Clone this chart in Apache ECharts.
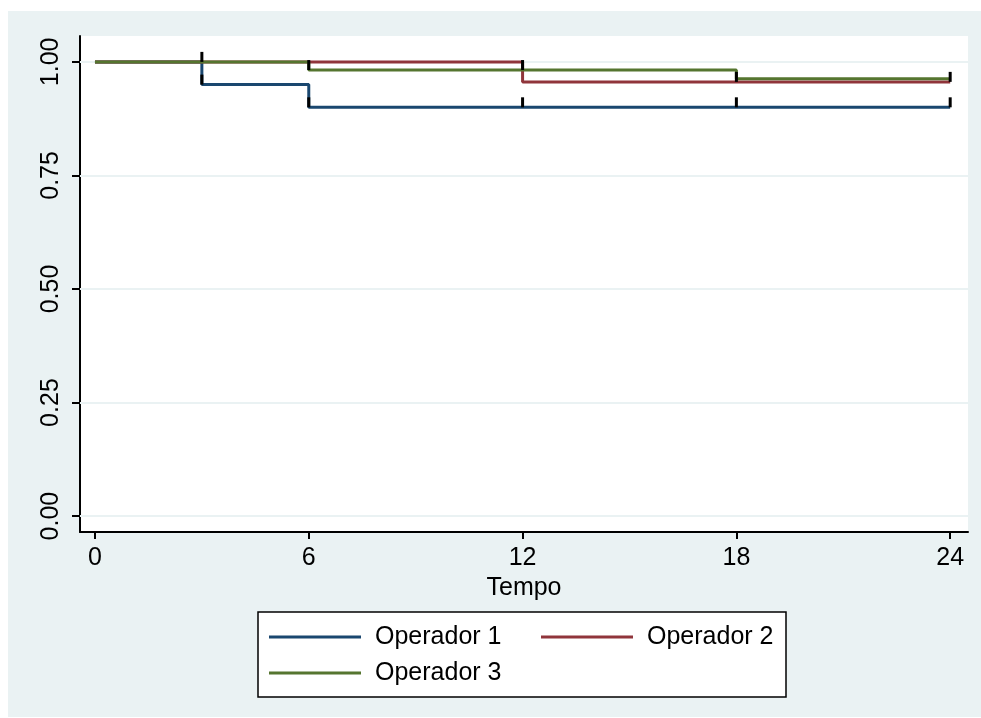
<!DOCTYPE html>
<html>
<head>
<meta charset="utf-8">
<script src="https://cdn.jsdelivr.net/npm/echarts@6/dist/echarts.min.js"></script>
<style>
html,body{margin:0;padding:0;background:#fff;}
#chart{width:981px;height:718px;}
</style>
</head>
<body>
<div id="chart"></div>
<script>
// Data
const seriesNames = ['Operador 1', 'Operador 2', 'Operador 3'];
const xTicks = [0, 6, 12, 18, 24];
const yTicks = [0, 0.25, 0.5, 0.75, 1];
const op1 = [[0, 1], [3, 0.95], [6, 0.90], [24, 0.90]];
const op2 = [[0, 1], [12, 0.956], [24, 0.956]];
const op3 = [[0, 1], [6, 0.982], [18, 0.963], [24, 0.963]];
const censor1 = [[3, 0.95], [6, 0.90], [12, 0.90], [18, 0.90], [24, 0.90]];
const censor2 = [[3, 1], [18, 0.956], [24, 0.956]];
const censor3 = [[6, 0.982], [12, 0.982]];

const colors = ['#1a476f', '#90353b', '#55752f'];
const FONT = 'Liberation Sans';

const chart = echarts.init(document.getElementById('chart'), null, {renderer: 'canvas'});

function censorSeries(data) {
  return {
    type: 'custom',
    data: data,
    z: 10,
    silent: true,
    renderItem: function (params, api) {
      const p = api.coord([api.value(0), api.value(1)]);
      return {
        type: 'line',
        shape: {x1: p[0], y1: p[1], x2: p[0], y2: p[1] - 10},
        style: {stroke: '#000', lineWidth: 3}
      };
    }
  };
}

function stepSeries(name, data, color) {
  return {
    name: name,
    type: 'line',
    step: 'end',
    data: data,
    symbol: 'none',
    silent: true,
    animation: false,
    lineStyle: {color: color, width: 3},
    itemStyle: {color: color},
    z: 5
  };
}

const option = {
  animation: false,
  textStyle: {fontFamily: FONT},
  graphic: [
    {type: 'rect', z: -100, shape: {x: 8, y: 11, width: 973, height: 706}, style: {fill: '#eaf2f3'}},
    {type: 'rect', z: 1, shape: {x: 258, y: 612, width: 528, height: 85}, style: {fill: '#fff', stroke: '#000', lineWidth: 1.5}}
  ],
  grid: {
    left: 80, right: 13, top: 36, bottom: 186,
    show: true, backgroundColor: '#fff', borderWidth: 0
  },
  xAxis: {
    type: 'value',
    min: -0.42, max: 24.5,
    name: 'Tempo',
    nameLocation: 'middle',
    nameGap: 40,
    nameTextStyle: {fontFamily: FONT, fontSize: 25, color: '#000'},
    axisLine: {show: true, onZero: false, lineStyle: {color: '#000', width: 2}},
    axisTick: {show: true, customValues: xTicks, length: 7, lineStyle: {color: '#000', width: 2}},
    axisLabel: {customValues: xTicks, fontFamily: FONT, fontSize: 25, color: '#000', margin: 14},
    splitLine: {show: false}
  },
  yAxis: {
    type: 'value',
    min: -0.035, max: 1.057,
    axisLine: {show: true, onZero: false, lineStyle: {color: '#000', width: 2}},
    axisTick: {show: true, customValues: yTicks, length: 8, lineStyle: {color: '#000', width: 2}},
    axisLabel: {
      customValues: yTicks, rotate: 90, fontFamily: FONT, fontSize: 25, color: '#000', margin: 16,
      formatter: function (v) { return v.toFixed(2); }
    },
    splitLine: {show: false}
  },
  legend: {
    data: seriesNames,
    left: 264, top: 619, width: 600,
    orient: 'horizontal',
    itemWidth: 92, itemHeight: 3, itemGap: 10,
    icon: 'rect',
    selectedMode: false,
    textStyle: {fontFamily: FONT, fontSize: 25, color: '#000', width: 156, lineHeight: 26, padding: [0, 0, 0, 9]}
  },
  series: [
    {
      type: 'line', data: [], silent: true,
      markLine: {
        silent: true, symbol: 'none', label: {show: false}, animation: false,
        lineStyle: {color: '#eaf2f3', width: 2, type: 'solid'},
        data: yTicks.map(v => ({yAxis: v}))
      },
      z: 1
    },
    stepSeries(seriesNames[0], op1, colors[0]),
    stepSeries(seriesNames[1], op2, colors[1]),
    stepSeries(seriesNames[2], op3, colors[2]),
    censorSeries(censor1),
    censorSeries(censor2),
    censorSeries(censor3)
  ]
};
chart.setOption(option);
</script>
</body>
</html>
